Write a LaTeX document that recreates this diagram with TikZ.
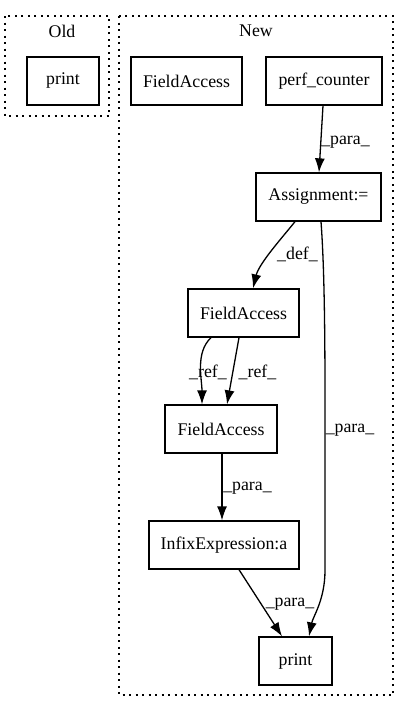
\documentclass[tikz,border=0pt]{standalone}
\usepackage{fontspec}
\setmainfont{Liberation Serif}
\usetikzlibrary{arrows.meta}
\begin{document}
\begin{tikzpicture}[x=1pt,y=-1pt,
  lbl/.style={font=\fontsize{17.8}{20}\selectfont, inner sep=0pt},
  box/.style={draw, line width=1.3pt, inner sep=0pt, minimum height=48pt, font=\fontsize{17.8}{20}\selectfont},
  cluster/.style={draw, line width=1.3pt, dash pattern=on 2pt off 4.5pt},
  edge/.style={line width=1.3pt, -{Latex[length=14pt,width=10pt]}}]
\useasboundingbox (0,0) rectangle (408,712);
% clusters
\draw[cluster] (5,16) rectangle (109,116);
\draw[cluster] (119,16) rectangle (393,695);
\node[lbl] (oldlbl) at (62,31) {Old};
\node[lbl] (newlbl) at (256,31) {New};
% nodes
\node[box, minimum width=72pt] (oldprint) at (63,81) {print};
\node[box, minimum width=111pt] (fa1) at (186.5,81) {FieldAccess};
\node[box, minimum width=116pt] (perf) at (324,81) {perf\_counter};
\node[box, minimum width=125pt] (assign) at (318.5,197) {Assignment:=};
\node[box, minimum width=111pt] (fa2) at (243.5,313) {FieldAccess};
\node[box, minimum width=112pt] (fa3) at (221,429) {FieldAccess};
\node[box, minimum width=150pt] (infix) at (224,545) {InfixExpression:a};
\node[box, minimum width=73pt] (print) at (295.5,661) {print};
% edges
\draw[edge] ([xshift=-1pt]perf.south) -- ([xshift=0.5pt]assign.north);
\node[lbl] (l1) at (345.5,142) {\_para\_};
\draw[edge] ([xshift=-23.5pt]assign.south) .. controls +(-12,15) and +(6,-25) .. ([xshift=9.5pt]fa2.north);
\node[lbl] (l2) at (297.5,254) {\_def\_};
\draw[edge] ([xshift=-32.5pt]fa2.south) .. controls +(-16,15) and +(0,-25) .. ([xshift=-19pt]fa3.north);
\node[lbl] (l3) at (208,372) {\_ref\_};
\draw[edge] ([xshift=-4.5pt]fa2.south) -- ([xshift=6pt]fa3.north);
\node[lbl] (l4) at (257.5,372) {\_ref\_};
\draw[edge] ([xshift=2.5pt]assign.south) .. controls +(3,40) and +(0,-80) .. (325,400) -- (325,570) .. controls +(0,30) and +(4,-20) .. ([xshift=13.5pt]print.north);
\node[lbl] (l5) at (350,430) {\_para\_};
\draw[edge] ([xshift=1pt]fa3.south) -- ([xshift=-2pt]infix.north);
\node[lbl] (l6) at (247.5,488) {\_para\_};
\draw[edge] ([xshift=15pt]infix.south) -- ([xshift=-13.5pt]print.north);
\node[lbl] (l7) at (290,604) {\_para\_};
\end{tikzpicture}
\end{document}
